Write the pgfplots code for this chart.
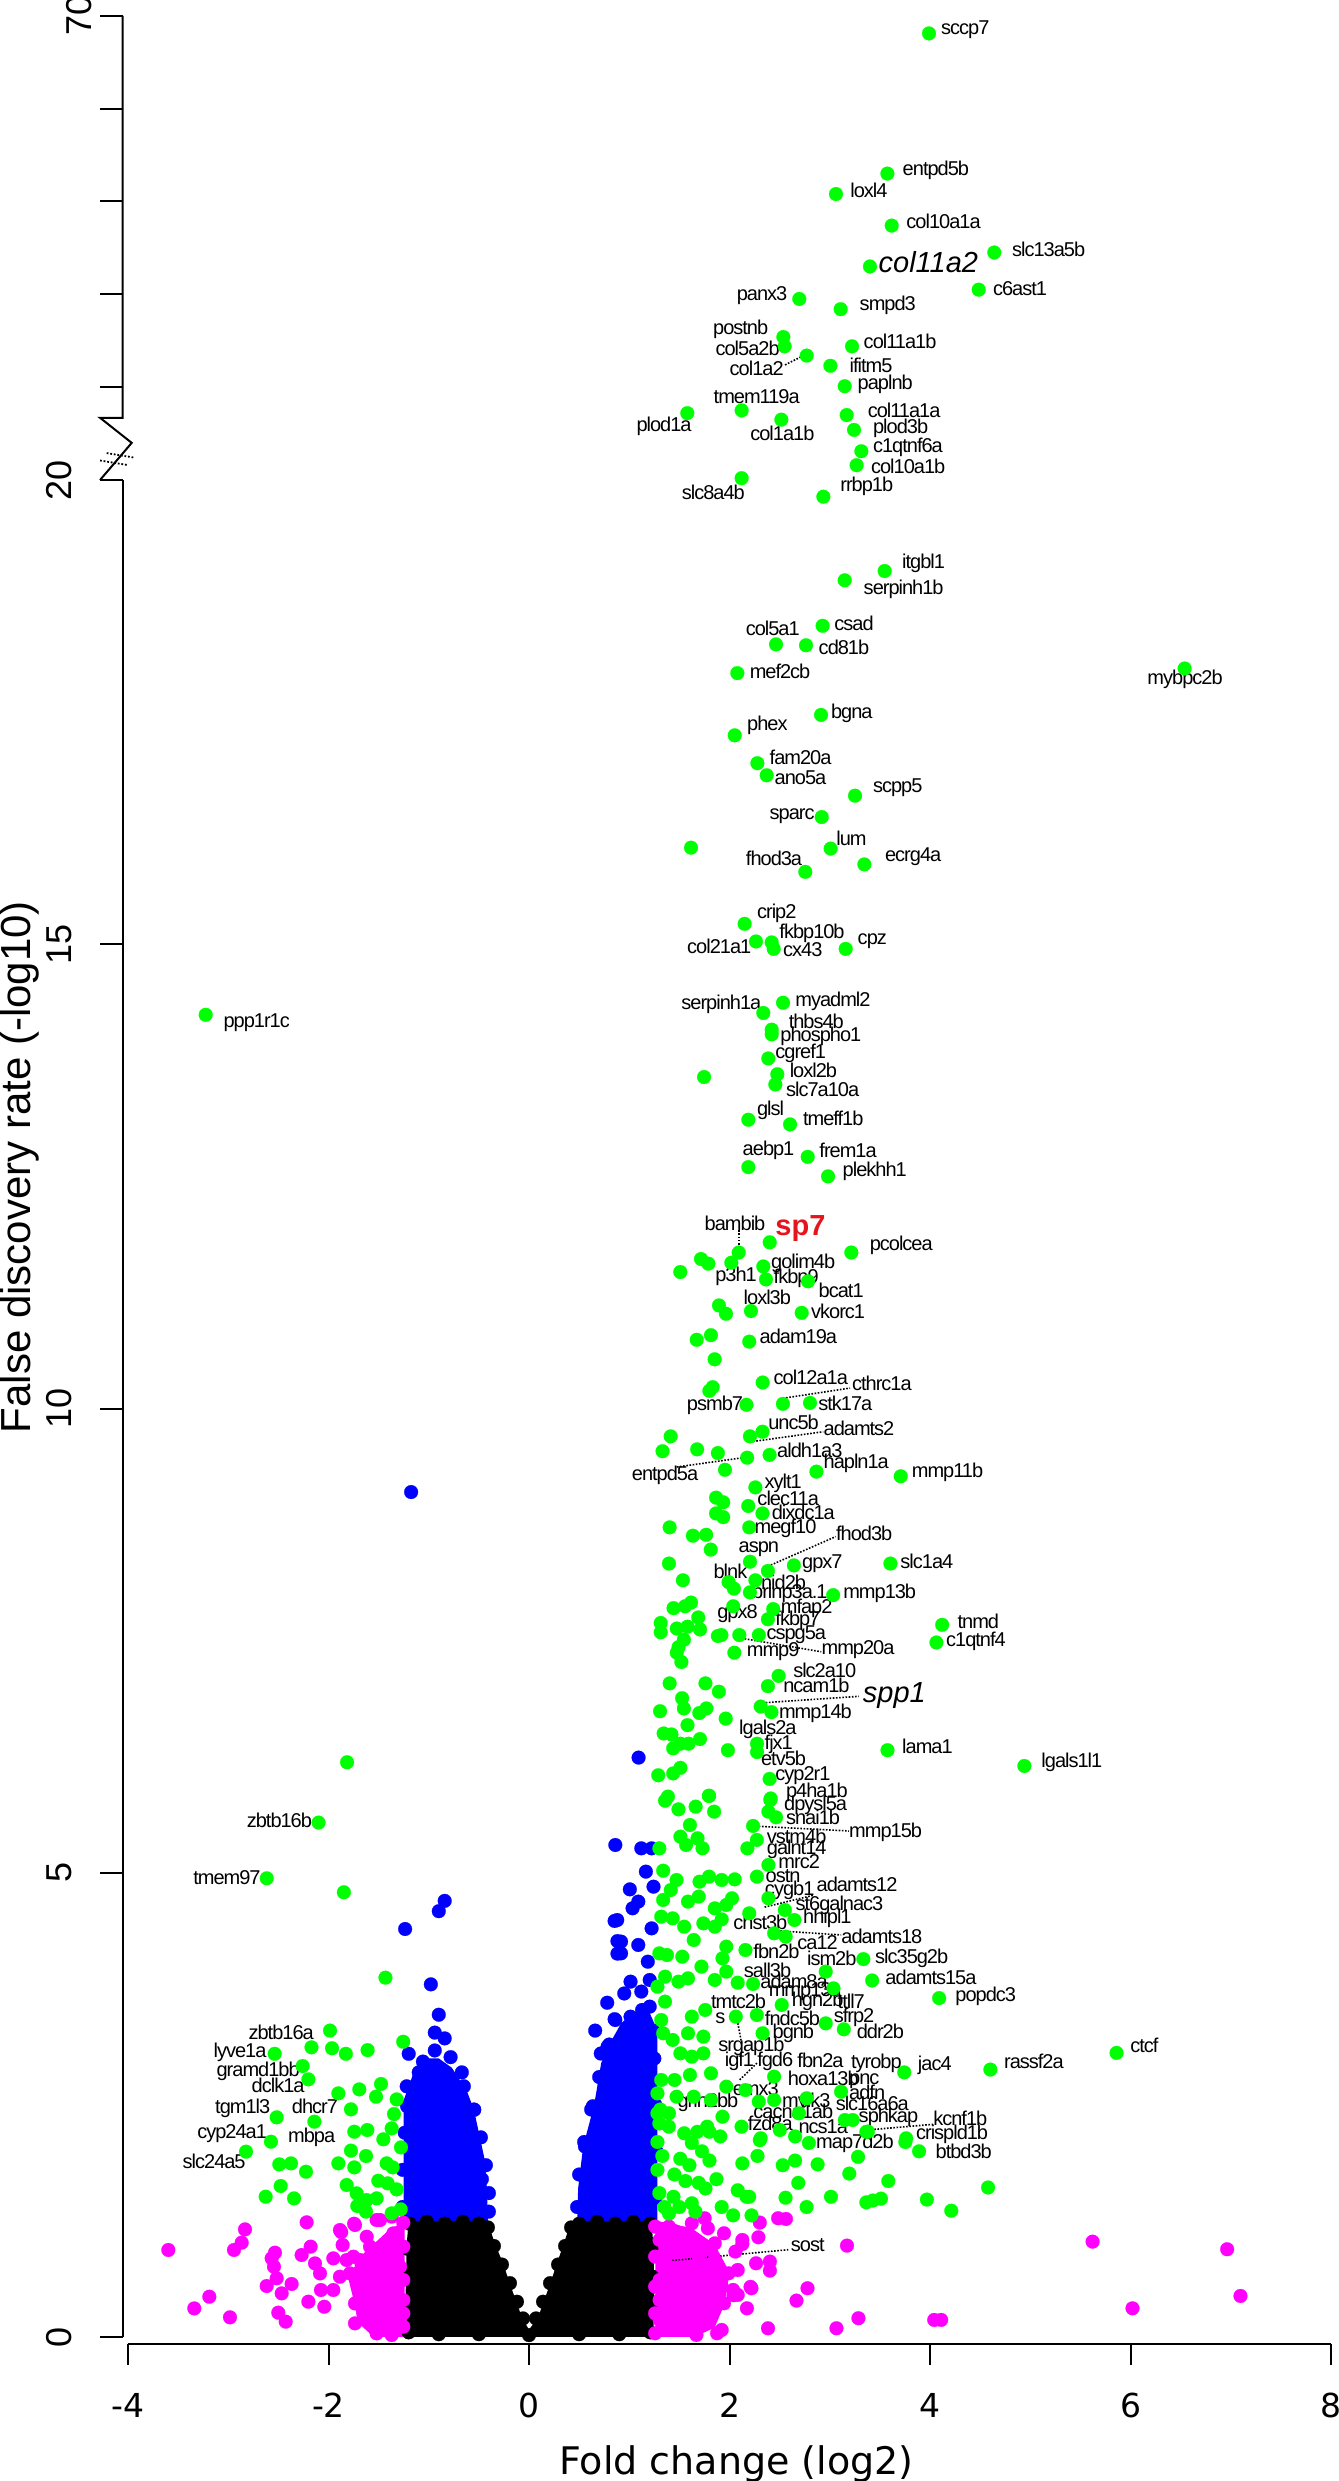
\documentclass[border=0pt]{standalone}
\usepackage{pgfplots}
\pgfplotsset{compat=1.18}
\usepackage{fontspec}
\setmainfont{Liberation Sans}
\newfontfamily\dejavu{DejaVu Sans}
\newfontfamily\genefont[LetterSpace=-5.0]{Liberation Sans}
\definecolor{ggreen}{RGB}{0,255,0}
\definecolor{gblue}{RGB}{0,0,255}
\definecolor{gmag}{RGB}{255,0,255}
\definecolor{spred}{RGB}{230,20,30}
\newcommand{\genelabel}{\genefont\fontsize{10}{12}\selectfont}
\newcommand{\gl}[4][west]{\node[anchor=#1,inner sep=0pt,font=\genelabel] at (axis cs:#2,#3) {#4};}
\newcommand{\dl}[4]{\draw[line width=0.8pt, dash pattern=on 0.8pt off 0.8pt] (axis cs:#1,#2) -- (axis cs:#3,#4);}
\pgfplotsset{
  gdot/.style={only marks, mark=*, mark size=3.45pt, color=ggreen, mark options={solid, fill=ggreen, draw=ggreen, line width=0.1pt}},
  bdot/.style={only marks, mark=*, mark size=3.45pt, color=gblue, mark options={solid, fill=gblue, draw=gblue, line width=0.1pt}},
  mdot/.style={only marks, mark=*, mark size=3.45pt, color=gmag, mark options={solid, fill=gmag, draw=gmag, line width=0.1pt}},
  kdot/.style={only marks, mark=*, mark size=3.45pt, color=black, mark options={solid, fill=black, draw=black, line width=0.1pt}},
}
\begin{document}
\begin{tikzpicture}
\begin{axis}[
  hide axis, clip=false,
  x=50.125pt, y=46.425pt,
  xmin=-4.07, xmax=8.07, ymin=-0.075, ymax=70,
  y coord trafo/.code={\pgfmathparse{(#1>20)*(20+(#1-20)/10)+(#1<=20)*(#1)}},
  y coord inv trafo/.code={\pgfmathparse{(#1>20)*(20+(#1-20)*10)+(#1<=20)*(#1)}},
]
% ---- not significant (black): dense core
\addplot[fill=black, draw=none] coordinates {(-1.22,0.0) (-1.23,0.5) (-1.22,1.0) (-1.20,1.26) (-1.05,1.28) (-0.85,1.26) (-0.65,1.28) (-0.47,1.26) (-0.40,1.22) (-0.37,1.1) (-0.32,0.95) (-0.26,0.80) (-0.20,0.60) (-0.15,0.45) (-0.09,0.27) (-0.04,0.15) (0.0,0.08) (0.05,0.15) (0.11,0.27) (0.17,0.45) (0.22,0.60) (0.28,0.80) (0.34,0.98) (0.39,1.15) (0.45,1.26) (0.65,1.28) (0.85,1.26) (1.05,1.28) (1.22,1.26) (1.24,1.0) (1.25,0.5) (1.24,0.0)} -- cycle;
\addplot[kdot] coordinates {(-1.20,0.05) (-1.21,0.35) (-1.20,0.65) (-1.21,0.95) (-1.19,1.22) (-1.02,1.24) (-0.84,1.22) (-0.66,1.24) (-0.50,1.22) (-0.41,1.18) (-0.35,0.98) (-0.27,0.78) (-0.19,0.58) (-0.12,0.38) (-0.06,0.20) (0.07,0.20) (0.14,0.38) (0.21,0.58) (0.29,0.78) (0.36,0.98) (0.42,1.18) (0.50,1.22) (0.68,1.24) (0.86,1.22) (1.04,1.24) (1.21,1.22) (1.22,0.95) (1.23,0.65) (1.22,0.35) (1.21,0.05) (-0.9,0.03) (-0.5,0.03) (0.0,0.02) (0.5,0.03) (0.9,0.03)};
% ---- large fold change, not significant (magenta)
\addplot[fill=gmag, draw=none] coordinates {(-1.24,0.0) (-1.24,1.25) (-1.40,1.15) (-1.55,1.0) (-1.70,0.85) (-1.80,0.62) (-1.75,0.40) (-1.70,0.15) (-1.55,0.0)} -- cycle;
\addplot[fill=gmag, draw=none] coordinates {(1.26,0.0) (1.26,1.25) (1.45,1.22) (1.65,1.15) (1.85,1.0) (2.0,0.7) (1.95,0.35) (1.85,0.10) (1.65,0.0)} -- cycle;
\addplot[mdot] coordinates {
(-3.598,0.937) (-2.833,1.159) (-2.866,1.016) (-2.943,0.937) (-3.189,0.434) (-3.339,0.308) (-2.983,0.212)
(-2.218,1.235) (-2.534,0.908) (-2.567,0.847) (-2.544,0.757) (-2.617,0.549) (-2.517,0.632) (-2.368,0.571)
(-2.467,0.470) (-2.501,0.262) (-2.427,0.165) (-2.201,0.380) (-2.268,0.883) (-2.178,0.973) (-2.135,0.793)
(-2.085,0.685) (-2.075,0.506) (-2.042,0.326) (-1.886,1.152) (-1.736,1.206) (-1.952,0.847) (-1.859,0.991)
(-1.752,0.865) (-1.619,1.080) (-1.520,1.260) (-1.786,0.685) (-1.952,0.506) (-1.736,0.362) (-1.736,0.147)
(-1.553,0.183) (-1.520,0.039) (-1.370,0.021) (-1.619,0.649) (-1.453,0.614) (-1.553,0.470) (-1.353,0.470)
(-1.254,0.973) (-1.353,1.116) (-1.254,1.231) (-1.420,0.829) (-1.287,0.757) (-1.254,0.254) (-1.653,0.254)
(-1.486,0.326) (-1.353,0.219) (-1.819,0.829) (-1.686,0.829) (-1.586,0.973) (-1.420,1.009) (-1.320,0.865)
(-1.553,0.757) (-1.254,0.614) (-1.254,0.398) (-1.254,0.111) (-1.353,0.111) (-1.453,0.111) (-1.686,0.542)
(-1.886,0.649) (-1.370,1.296) (-1.486,1.260) (-1.873,1.13) (-1.745,1.22)
(2.485,1.279) (2.563,1.271) (2.302,1.232) (2.288,1.074) (2.128,1.002) (2.265,0.794) (2.403,0.812)
(2.403,0.715) (3.172,0.984) (5.622,1.027) (6.964,0.945) (7.097,0.442) (6.020,0.309) (4.042,0.184)
(4.111,0.184) (3.286,0.202) (3.067,0.094) (2.384,0.094) (2.778,0.525) (2.668,0.392) (2.219,0.525)
(2.174,0.309) (2.082,0.453) (2.036,0.507) (1.922,0.076) (1.876,0.040) (1.670,0.022) (1.670,0.184)
(1.441,0.076) (1.807,0.327) (1.853,0.507) (1.990,0.686) (2.082,0.722) (2.059,0.920) (2.128,1.045)
(1.945,1.117) (1.784,1.171) (1.752,1.279) (1.624,1.225) (1.532,1.117) (1.395,1.189) (1.303,1.045)
(1.349,0.830) (1.510,0.920) (1.693,0.866) (1.853,0.830) (1.532,0.686) (1.303,0.614) (1.441,0.543)
(1.670,0.597) (1.922,0.543) (1.303,0.399) (1.487,0.363) (1.693,0.399) (1.945,0.363) (1.303,0.184)
(1.532,0.220) (1.624,0.076) (1.258,0.040) (1.395,0.758) (1.624,1.009) (1.853,1.009) (1.258,1.189)
(1.258,0.866) (1.258,0.543) (1.258,0.255) (2.04,0.45) (2.21,0.54)
};
% ---- small fold change, significant (blue)
\addplot[fill=gblue, draw=none] coordinates {(-1.25,1.25) (-0.41,1.25) (-0.42,1.6) (-0.44,1.9) (-0.50,2.2) (-0.55,2.45) (-0.62,2.65) (-0.77,2.90) (-0.90,3.0) (-1.05,3.0) (-1.15,2.85) (-1.25,2.55)} -- cycle;
\addplot[fill=gblue, draw=none] coordinates {(0.48,1.25) (1.28,1.25) (1.28,3.30) (1.20,3.50) (1.05,3.50) (0.92,3.38) (0.80,3.15) (0.72,2.95) (0.65,2.50) (0.54,2.05) (0.49,1.60)} -- cycle;
\addplot[bdot] coordinates {
(-1.176,9.10) (-0.841,4.697) (-0.900,4.586) (-1.236,4.394) (-0.979,3.798) (-0.900,3.471) (-0.940,3.278)
(-0.841,3.216) (-0.940,3.086) (-0.782,3.014) (-1.058,2.966) (-0.960,2.894) (-0.920,2.677) (-0.743,2.596)
(-0.546,2.447) (-1.216,2.485) (-1.098,2.389) (-1.177,2.341) (-1.019,2.524) (-0.763,2.389) (-0.586,2.245)
(-0.704,2.101) (-1.098,2.149) (-1.22,2.70) (-1.10,2.85) (-0.95,2.90) (-0.65,2.70) (-0.55,2.45)
(-0.48,2.15) (-0.43,1.85) (-0.40,1.55) (-0.40,1.35) (-1.26,1.40) (-1.26,1.80) (-1.24,2.20)
(-0.60,1.95) (-0.85,1.80) (-1.05,1.55) (-0.70,1.45) (-0.47,1.70) (-1.20,3.05) (-0.67,2.85)
(1.093,6.24) (0.861,5.299) (1.120,5.263) (1.223,5.263) (1.166,5.012) (1.006,4.821) (1.242,4.850)
(1.090,4.689) (1.033,4.617) (0.880,4.491) (1.223,4.401) (0.918,4.258) (0.918,4.132) (1.090,4.222)
(1.185,4.042) (1.013,3.827) (1.204,3.845) (0.861,3.414) (1.013,3.450) (1.128,3.522) (1.204,3.558)
(0.784,3.127) (0.937,3.163) (1.090,3.199) (1.204,3.271) (0.861,2.948) (1.052,2.912) (1.204,2.948)
(0.854,4.481) (0.882,4.264) (0.882,4.129) (0.854,3.423) (0.716,3.053) (0.834,3.086) (0.637,2.485)
(0.755,2.726) (0.755,2.245) (0.558,2.052) (0.48,1.40) (0.50,1.75) (0.55,2.10) (0.62,2.45) (0.70,2.80)
(0.80,3.15) (1.26,1.50) (1.27,2.00) (1.26,2.50) (1.25,3.00) (1.24,3.30) (0.66,3.30) (0.95,3.70)
(1.12,3.72) (0.78,3.60)
};
% ---- large fold change, significant (green)
\addplot[gdot] coordinates {
(3.99,68.1) (3.575,53.0) (3.062,50.8) (3.618,47.4) (4.641,44.5) (3.401,43.0) (4.486,40.5) (2.696,39.5)
(3.109,38.4) (2.537,35.4) (2.550,34.4) (2.770,33.4) (3.222,34.4) (3.006,32.3) (3.149,30.1) (2.121,27.5)
(1.579,27.2) (2.517,26.5) (3.169,27.0) (3.242,25.4) (3.315,23.1) (3.268,21.6) (2.121,20.2) (2.936,19.82)
(3.548,19.02) (3.149,18.92) (2.929,18.43) (2.464,18.23) (2.763,18.22) (2.078,17.92) (6.540,17.97)
(2.913,17.47) (2.052,17.25) (2.278,16.95) (2.371,16.82) (3.252,16.60) (2.920,16.37) (1.616,16.04)
(3.009,16.03) (2.756,15.78) (3.345,15.86) (2.151,15.22) (2.264,15.03) (2.421,15.02) (2.441,14.95)
(3.159,14.95) (-3.225,14.24)
(2.534,14.37) (2.337,14.26) (2.421,14.08) (2.421,14.03) (2.387,13.77) (1.746,13.57) (2.477,13.60)
(2.457,13.49) (2.188,13.11) (2.604,13.06) (2.780,12.71) (2.188,12.60) (2.983,12.50) (2.401,11.79)
(2.092,11.68) (3.215,11.68) (1.716,11.61) (1.789,11.56) (1.509,11.47) (2.018,11.57) (2.337,11.53)
(2.364,11.39) (2.783,11.37) (1.895,11.11) (1.965,11.02) (2.214,11.05) (2.720,11.03) (2.197,10.72)
(1.673,10.74) (1.815,10.79) (1.852,10.53) (2.331,10.28)
(1.832,10.23) (1.799,10.19) (2.169,10.04) (2.803,10.06) (2.533,10.05) (2.329,9.75) (2.204,9.70)
(1.413,9.70) (1.332,9.54) (1.677,9.56) (1.884,9.52) (2.176,9.47) (2.400,9.50) (1.955,9.34) (2.867,9.32)
(3.708,9.27) (2.258,9.15) (1.866,9.04) (1.937,8.99) (1.866,8.87) (1.937,8.83) (2.187,8.95) (2.329,8.87)
(1.403,8.72) (1.635,8.63) (1.767,8.64) (1.813,8.48) (2.197,8.72) (3.605,8.33) (2.642,8.31) (1.396,8.33)
(1.535,8.15) (2.204,8.35) (2.383,8.25) (2.258,8.15) (1.991,8.13) (2.044,8.06) (2.204,8.02) (3.034,7.99)
(2.436,7.84) (2.383,7.73) (2.037,7.87) (1.442,7.85) (1.556,7.87) (1.616,7.91) (1.314,7.69) (1.314,7.59)
(1.474,7.63) (1.581,7.65) (1.688,7.75) (1.706,7.62) (1.545,7.51) (1.492,7.43) (1.474,7.37) (1.520,7.27)
(1.884,7.55) (1.919,7.56) (2.098,7.56) (2.293,7.56) (2.048,7.37) (4.121,7.67) (4.064,7.48) (2.490,7.12)
(2.383,7.01) (1.403,7.04) (1.760,7.04) (1.894,6.95) (1.527,6.88) (1.545,6.77) (1.307,6.74) (1.699,6.72)
(1.770,6.77) (1.962,6.66) (2.311,6.79) (2.418,6.73) (1.581,6.59) (1.343,6.50) (1.421,6.49) (1.706,6.44)
(1.592,6.39) (1.510,6.39) (1.438,6.34) (1.984,6.32) (2.275,6.39) (2.275,6.30) (1.510,6.13) (1.438,6.07)
(1.289,6.05) (2.400,6.01) (1.795,5.83) (1.386,5.82) (2.411,5.80) (3.576,6.32) (4.941,6.15)
(1.796,5.827) (1.357,5.776) (1.491,5.683) (1.662,5.712) (1.846,5.658) (2.407,5.784) (2.388,5.658)
(2.464,5.597) (2.235,5.504) (1.605,5.514) (1.510,5.389) (1.681,5.371) (1.567,5.299) (1.731,5.263)
(1.300,5.263) (2.273,5.353) (2.178,5.263) (2.388,5.084) (2.273,4.958) (1.338,5.022) (1.472,4.922)
(1.701,4.904) (1.796,4.958) (1.922,4.922) (2.052,4.929) (1.414,4.814) (1.338,4.707) (1.586,4.689)
(1.693,4.743) (1.853,4.617) (1.968,4.653) (2.025,4.725) (2.197,4.563) (2.388,4.725) (2.552,4.599)
(2.647,4.491) (1.319,4.527) (1.433,4.509) (1.548,4.419) (1.739,4.455) (1.853,4.419) (1.922,4.498)
(1.643,4.276) (1.968,4.204) (2.159,4.168) (2.445,4.348) (2.560,4.312) (1.300,4.132) (1.376,4.114)
(1.529,4.096) (1.720,3.989) (1.930,4.078) (1.968,3.935) (2.082,3.816) (2.235,3.802) (1.853,3.845)
(1.586,3.863) (1.491,3.827) (1.357,3.881) (1.281,3.773) (1.357,3.612) (1.624,3.450) (1.758,3.522)
(2.063,3.450) (2.273,3.468) (2.521,3.576) (2.330,3.271) (2.960,3.935) (3.037,3.755) (2.960,3.378)
(3.140,3.314) (1.319,3.414) (1.338,3.271) (1.433,3.199) (1.586,3.271) (1.739,3.235) (1.510,3.055)
(1.624,3.019) (1.739,3.055) (1.815,2.840) (1.605,2.822) (1.452,2.768) (1.319,2.768) (1.281,2.624)
(1.472,2.588) (1.643,2.588) (1.815,2.553) (1.968,2.696) (2.159,2.660) (2.445,2.804) (2.292,2.535)
(2.445,2.553) (2.769,2.571) (3.113,2.642) (2.693,2.409) (3.151,2.337) (3.228,2.337) (3.380,2.212)
(3.762,2.140) (2.311,2.140) (2.502,2.229) (2.120,2.265) (1.281,2.409) (1.395,2.265) (1.548,2.194)
(1.777,2.265) (1.930,2.373)
(3.335,4.07) (3.423,3.84) (4.091,3.65) (5.861,3.06) (3.743,2.85) (4.602,2.88)
(2.302,2.12) (2.654,2.16) (2.792,2.09) (3.282,1.94) (3.365,2.21) (3.754,2.10) (3.891,2.00) (3.195,1.76)
(3.584,1.68) (4.579,1.61) (3.969,1.48) (4.212,1.36) (3.365,1.45) (3.511,1.49) (3.43,1.47) (3.012,1.51)
(2.769,1.40) (2.686,1.66) (2.559,1.50) (2.879,1.86) (2.531,1.85) (2.654,1.90) (2.279,1.95) (2.128,1.87)
(2.196,1.51) (2.036,1.31) (2.22,1.31) (1.908,2.16) (1.624,2.09) (1.679,2.21) (1.80,2.21) (1.725,2.00)
(1.80,1.90) (1.509,1.92) (1.60,1.85) (1.45,1.75) (1.56,1.68) (1.693,1.66) (1.76,1.60) (1.87,1.70)
(2.082,1.58) (2.17,1.51) (1.922,1.40) (1.624,1.44) (1.441,1.51) (1.396,1.33) (1.35,1.40) (1.281,1.80)
(1.281,2.10) (1.30,2.30) (1.396,2.41) (1.31,2.45) (1.30,1.55) (1.33,1.95) (1.50,1.40) (1.66,1.35)
(-1.815,6.19) (-2.099,5.54) (-2.616,4.94) (-1.847,4.79) (-1.432,3.87) (-1.985,3.30) (-1.255,3.18)
(-2.537,3.05) (-2.170,3.12) (-1.965,3.11) (-1.827,3.05) (-1.610,3.09)
(-2.258,2.918) (-2.201,2.775) (-1.902,2.624) (-1.693,2.667) (-1.476,2.725) (-1.526,2.588) (-1.320,2.559)
(-1.776,2.452) (-1.347,2.401) (-2.517,2.366) (-2.141,2.319) (-1.743,2.211) (-1.613,2.229) (-1.370,2.247)
(-1.453,2.129) (-1.277,2.042) (-2.574,2.103) (-2.823,1.996) (-1.776,2.007) (-1.626,1.949) (-1.902,1.870)
(-1.743,1.827) (-1.420,1.870) (-1.360,1.827) (-2.491,1.859) (-2.374,1.870) (-2.225,1.780) (-1.819,1.637)
(-1.503,1.683) (-1.410,1.655) (-1.320,1.590) (-2.477,1.626) (-2.627,1.511) (-2.344,1.493) (-1.719,1.547)
(-1.520,1.493) (-1.620,1.475) (-1.713,1.411) (-1.626,1.350) (-1.280,1.375) (-1.370,1.332)
};
% ---- gene labels
\gl{4.107}{68.5}{sccp7}
\gl{3.724}{53.3}{entpd5b}
\gl{3.202}{51.2}{loxl4}
\gl{3.761}{47.9}{col10a1a}
\gl{4.815}{44.8}{slc13a5b}
\node[anchor=west,inner sep=0pt,font=\fontsize{14.5}{16}\selectfont\itshape] at (axis cs:3.484,43.5) {col11a2};
\gl{4.625}{40.6}{c6ast1}
\gl[east]{2.580}{39.9}{panx3}
\gl{3.295}{38.8}{smpd3}
\gl[center]{2.111}{36.2}{postnb}
\gl[east]{2.504}{34.2}{col5a2b}
\gl[east]{2.544}{32.0}{col1a2}
\gl{3.335}{34.9}{col11a1b}
\gl{3.195}{32.3}{ifitm5}
\gl{3.275}{30.3}{paplnb}
\gl[center]{2.271}{29.0}{tmem119a}
\gl[center]{1.347}{25.8}{plod1a}
\gl[center]{2.527}{25.0}{col1a1b}
\gl{3.375}{27.5}{col11a1a}
\gl{3.428}{25.6}{plod3b}
\gl{3.428}{23.5}{c1qtnf6a}
\gl{3.408}{21.5}{col10a1b}
\gl[center]{1.838}{19.87}{slc8a4b}
\gl{3.102}{19.93}{rrbp1b}
\dl{2.554}{32.4}{2.720}{33.3}
\gl{3.718}{19.10}{itgbl1}
\gl{3.335}{18.82}{serpinh1b}
\gl{3.042}{18.46}{csad}
\gl[center]{2.431}{18.40}{col5a1}
\gl{2.886}{18.20}{cd81b}
\gl{2.198}{17.94}{mef2cb}
\gl[center]{6.544}{17.85}{mybpc2b}
\gl{3.009}{17.49}{bgna}
\gl{2.172}{17.36}{phex}
\gl{2.397}{17.01}{fam20a}
\gl{2.447}{16.79}{ano5a}
\gl{3.428}{16.69}{scpp5}
\gl[east]{2.853}{16.38}{sparc}
\gl{3.062}{16.14}{lum}
\gl[center]{2.444}{15.93}{fhod3a}
\gl{3.548}{15.94}{ecrg4a}
\gl{2.271}{15.33}{crip2}
\gl[east]{2.221}{14.98}{col21a1}
\gl{2.494}{15.12}{fkbp10b}
\gl{2.531}{14.94}{cx43}
\gl{3.275}{15.03}{cpz}
\gl{-3.051}{14.16}{ppp1r1c}
\gl{2.653}{14.39}{myadml2}
\gl[east]{2.321}{14.35}{serpinh1a}
\gl{2.587}{14.17}{thbs4b}
\gl{2.504}{14.01}{phospho1}
\gl{2.454}{13.83}{cgref1}
\gl{2.597}{13.64}{loxl2b}
\gl{2.561}{13.44}{slc7a10a}
\gl{2.271}{13.21}{glsl}
\gl{2.730}{13.13}{tmeff1b}
\gl{2.128}{12.78}{aebp1}
\gl{2.893}{12.78}{frem1a}
\gl{3.125}{12.55}{plekhh1}
\gl[center]{2.055}{11.99}{bambib}
\node[anchor=west,inner sep=0pt,text=spred,font=\fontsize{14.5}{16}\selectfont\bfseries] at (axis cs:2.454,11.94) {sp7};
\gl{3.395}{11.76}{pcolcea}
\gl{2.411}{11.56}{golim4b}
\gl[center]{2.065}{11.42}{p3h1}
\gl{2.437}{11.40}{fkbp9}
\gl{2.886}{11.27}{bcat1}
\gl[center]{2.377}{11.20}{loxl3b}
\gl{2.810}{11.05}{vkorc1}
\gl{2.297}{10.78}{adam19a}
\gl{2.437}{10.34}{col12a1a}
\gl{3.219}{10.27}{cthrc1a}
\dl{2.092}{11.92}{2.092}{11.73}
\gl[center]{1.855}{10.03}{psmb7}
\gl{2.882}{10.06}{stk17a}
\dl{2.533}{10.11}{3.202}{10.22}
\gl{2.383}{9.85}{unc5b}
\gl{2.935}{9.79}{adamts2}
\dl{2.204}{9.64}{2.935}{9.75}
\gl{2.472}{9.55}{aldh1a3}
\gl[center]{1.357}{9.28}{entpd5a}
\dl{1.474}{9.37}{2.134}{9.47}
\gl{2.935}{9.41}{hapln1a}
\gl{3.815}{9.31}{mmp11b}
\gl{2.347}{9.19}{xylt1}
\gl{2.275}{9.03}{clec11a}
\gl{2.418}{8.88}{dixdc1a}
\gl{2.247}{8.71}{megf10}
\gl{3.059}{8.65}{fhod3b}
\dl{2.383}{8.30}{3.059}{8.62}
\gl[center]{2.293}{8.48}{aspn}
\gl{3.701}{8.35}{slc1a4}
\gl{2.721}{8.33}{gpx7}
\gl[center]{2.009}{8.25}{blnk}
\gl{2.311}{8.13}{nid2b}
\gl{2.222}{8.01}{brinp3a.1}
\gl{3.131}{8.01}{mmp13b}
\gl[center]{2.080}{7.79}{gpx8}
\gl{2.508}{7.85}{mfap2}
\gl{2.454}{7.72}{fkbp7}
\gl{2.365}{7.56}{cspg5a}
\gl{2.169}{7.38}{mmp9}
\gl{2.915}{7.40}{mmp20a}
\dl{2.151}{7.52}{2.915}{7.38}
\gl{4.271}{7.71}{tnmd}
\gl{4.157}{7.49}{c1qtnf4}
\gl{2.632}{7.18}{slc2a10}
\gl{2.533}{7.02}{ncam1b}
\node[anchor=west,inner sep=0pt,font=\fontsize{14.5}{16}\selectfont\itshape] at (axis cs:3.327,6.91) {spp1};
\dl{2.329}{6.83}{3.291}{6.90}
\gl{2.490}{6.72}{mmp14b}
\gl[center]{2.383}{6.54}{lgals2a}
\gl{2.347}{6.38}{fjx1}
\gl{2.311}{6.23}{etv5b}
\gl{3.719}{6.36}{lama1}
\gl{5.108}{6.19}{lgals1l1}
\gl{2.454}{6.05}{cyp2r1}
\gl{2.560}{5.87}{p4ha1b}
\gl{2.541}{5.73}{dpysl5a}
\gl{2.560}{5.60}{snai1b}
\gl{3.190}{5.44}{mmp15b}
\dl{2.292}{5.50}{3.190}{5.45}
\gl{2.369}{5.39}{vstm4b}
\gl{2.369}{5.25}{galnt14}
\gl{2.484}{5.12}{mrc2}
\gl{2.357}{4.96}{ostn}
\gl{2.865}{4.87}{adamts12}
\gl{2.350}{4.81}{cygb1}
\dl{2.350}{4.63}{2.846}{4.76}
\gl{2.655}{4.65}{st6galnac3}
\gl{2.731}{4.51}{hhipl1}
\gl[center]{2.308}{4.47}{chst3b}
\gl{3.113}{4.31}{adamts18}
\dl{2.407}{4.38}{3.113}{4.33}
\gl{2.674}{4.25}{ca12}
\gl{2.235}{4.15}{fbn2b}
\gl{2.770}{4.08}{ism2b}
\gl{3.449}{4.08}{slc35g2b}
\gl{2.140}{3.95}{sall3b}
\gl{2.304}{3.83}{adam8a}
\gl{3.552}{3.87}{adamts15a}
\gl{2.388}{3.72}{mmp13a}
\gl[center]{2.090}{3.61}{tmtc2b}
\gl{2.617}{3.61}{hgn2b}
\gl{3.075}{3.61}{ttll7}
\gl{4.250}{3.67}{popdc3}
\gl[center]{1.910}{3.43}{s}
\dl{2.083}{3.38}{2.121}{3.16}
\gl{2.350}{3.43}{fndc5b}
\gl{3.036}{3.44}{sfrp2}
\gl{2.426}{3.27}{bgnb}
\gl{3.266}{3.29}{ddr2b}
\gl{1.884}{3.13}{srgap1b}
\gl{5.995}{3.14}{ctcf}
\gl{1.949}{2.97}{igf1}
\gl{2.273}{2.97}{fgd6}
\gl{2.674}{2.98}{fbn2a}
\dl{2.102}{2.77}{2.274}{2.95}
\gl{3.209}{2.95}{tyrobp}
\gl{3.876}{2.93}{jac4}
\gl{4.735}{2.97}{rassf2a}
\gl{2.579}{2.79}{hoxa13b}
\gl{3.190}{2.75}{pnc}
\gl[center]{2.262}{2.67}{emx3}
\gl{3.190}{2.64}{adfn}
\gl[center]{1.785}{2.53}{grin2bb}
\gl{2.522}{2.53}{mylk3}
\gl{3.056}{2.52}{slc16a6a}
\gl{2.235}{2.43}{cacna1ab}
\gl{3.285}{2.37}{sphkap}
\gl{4.029}{2.36}{kcnf1b}
\dl{3.380}{2.23}{4.029}{2.29}
\gl{2.178}{2.30}{fzd8a}
\gl{2.685}{2.27}{ncs1a}
\gl{3.857}{2.18}{crispld1b}
\gl{4.052}{2.00}{btbd3b}
\gl{2.861}{2.09}{map7d2b}
\gl{2.608}{0.99}{sost}
\dl{1.396}{0.82}{2.586}{0.94}
\gl[east]{-2.161}{5.56}{zbtb16b}
\gl[east]{-2.674}{4.95}{tmem97}
\gl[east]{-2.143}{3.28}{zbtb16a}
\gl[east]{-2.615}{3.07}{lyve1a}
\gl[east]{-2.284}{2.86}{gramd1bb}
\gl[east]{-2.235}{2.71}{dclk1a}
\gl[east]{-2.577}{2.46}{tgm1l3}
\gl[center]{-2.135}{2.48}{dhcr7}
\gl[east]{-2.610}{2.19}{cyp24a1}
\gl[center]{-2.168}{2.15}{mbpa}
\gl[east]{-2.823}{1.89}{slc24a5}
% ---- axes (R style, tick to tick, with a broken y axis)
\draw[line width=1pt] (axis cs:-4,-0.075) -- (axis cs:8,-0.075);
\pgfplotsinvokeforeach{-4,-2,0,2,4,6,8}{
  \draw[line width=1pt] (axis cs:#1,-0.075) -- (axis cs:#1,-0.30);
  \node[anchor=base,inner sep=0pt,font=\dejavu\fontsize{16.5}{18}\selectfont] at (axis cs:#1,-0.865) {#1};
}
\draw[line width=1pt] (axis cs:-4.053,0) -- (axis cs:-4.053,20);
\draw[line width=1pt] (axis cs:-4.279,20) -- (axis cs:-3.963,24.0) -- (axis cs:-4.279,26.7) -- (axis cs:-4.053,26.7) -- (axis cs:-4.053,70);
\draw[line width=0.9pt, dash pattern=on 0.9pt off 0.9pt] (axis cs:-4.213,22.9) -- (axis cs:-3.930,22.4);
\draw[line width=0.9pt, dash pattern=on 0.9pt off 0.9pt] (axis cs:-4.279,22.1) -- (axis cs:-3.997,21.6);
\pgfplotsinvokeforeach{0,5,10,15,20,30,40,50,60,70}{
  \draw[line width=1pt] (axis cs:-4.053,#1) -- (axis cs:-4.279,#1);
}
\pgfplotsinvokeforeach{0,5,10,15,20}{
  \node[rotate=90,anchor=base,inner sep=0pt,font=\fontsize{18}{20}\selectfont] at (axis cs:-4.564,#1) {#1};
}
\node[rotate=90,anchor=base,inner sep=0pt,font=\fontsize{18}{20}\selectfont] at (axis cs:-4.364,70) {70};
\node[anchor=base,inner sep=0pt,font=\dejavu\fontsize{19}{22}\selectfont] at (axis cs:2.07,-1.486) {Fold change (log2)};
\node[rotate=90,anchor=base,inner sep=0pt,font=\fontsize{21}{24}\selectfont] at (axis cs:-4.968,12.60) {False discovery rate (-log10)};
\coordinate (bbl) at (axis cs:-5.277,-1.551);
\coordinate (btr) at (axis cs:8.070,71.7);
\end{axis}
\pgfresetboundingbox
\path[use as bounding box] (bbl) rectangle (btr);
\end{tikzpicture}
\end{document}
